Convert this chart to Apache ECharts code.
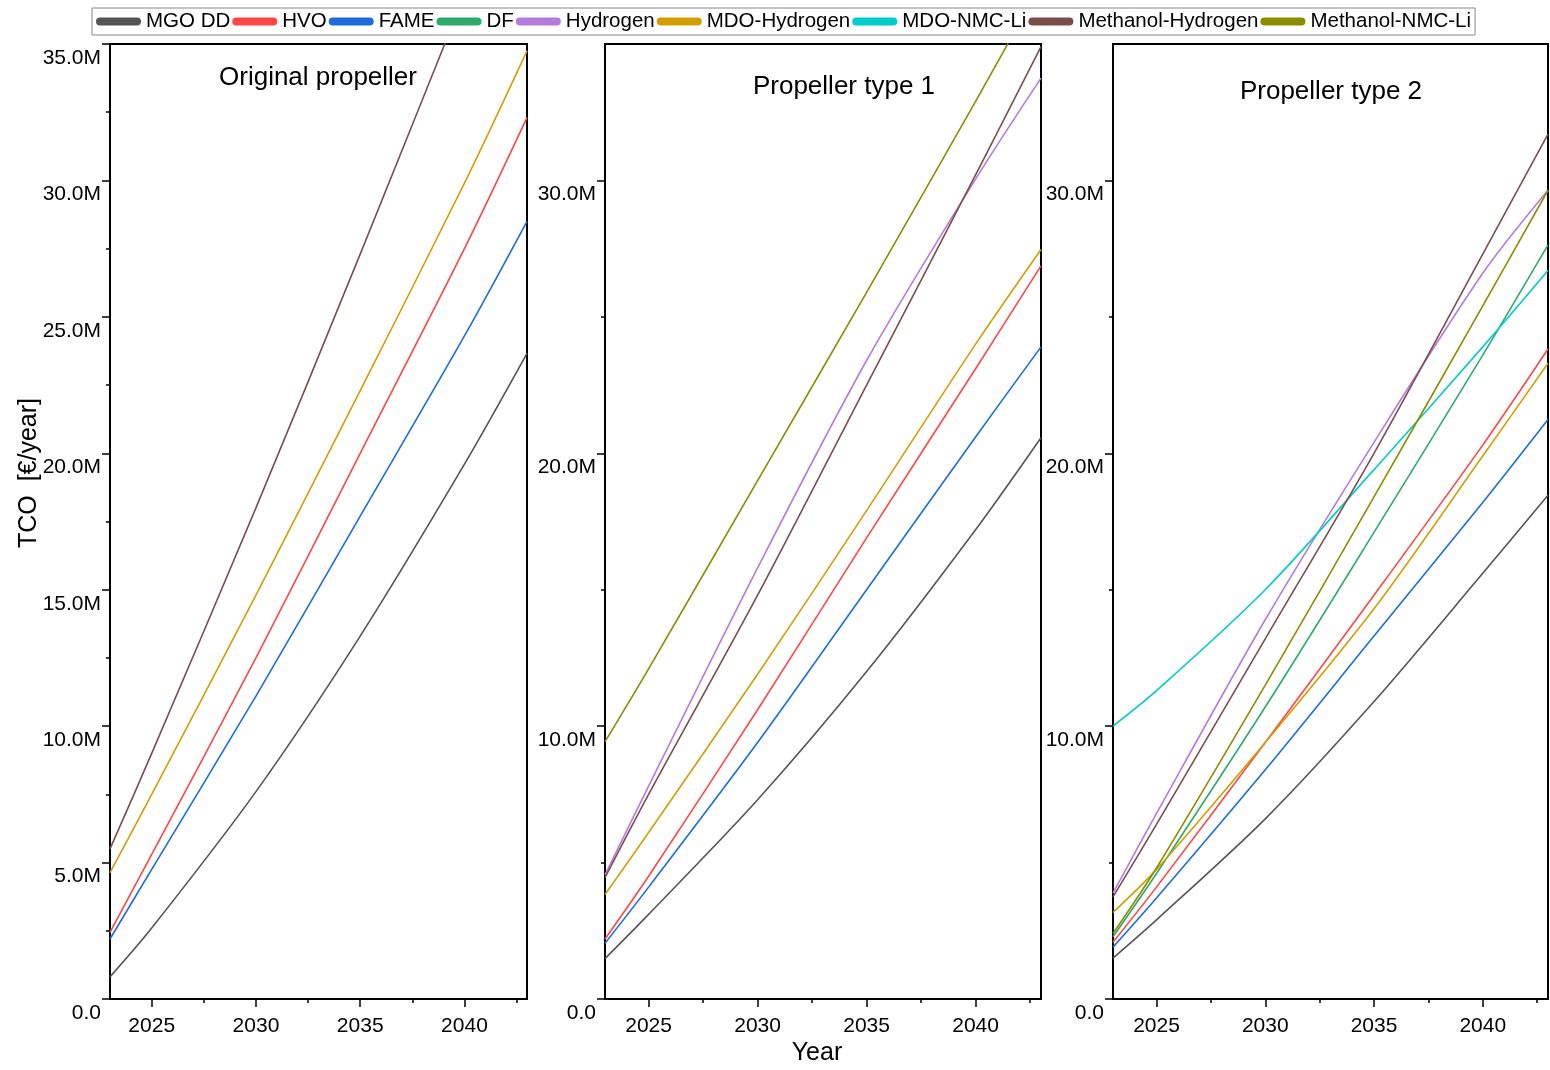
<!DOCTYPE html>
<html>
<head>
<meta charset="utf-8">
<script src="https://cdn.jsdelivr.net/npm/echarts@6/dist/echarts.min.js"></script>
<style>
  html, body { margin: 0; padding: 0; background: #fff; }
  #chart { width: 1550px; height: 1070px; }
</style>
</head>
<body>
<div id="chart"></div>
<script>
// ---------- data (values in million €) ----------
const years = [2023, 2025, 2030, 2035, 2040, 2043];

const seriesNames = ['MGO DD', 'HVO', 'FAME', 'DF', 'Hydrogen', 'MDO-Hydrogen', 'MDO-NMC-Li', 'Methanol-Hydrogen', 'Methanol-NMC-Li'];
const seriesColors = ['#555555', '#ff4646', '#1c6ce0', '#2eaa6c', '#b57bdc', '#d29e00', '#00cccc', '#7b4e4e', '#8c8c00'];

const panelTitles = ['Original propeller', 'Propeller type 1', 'Propeller type 2'];

// Original propeller
const p1_MGO_DD = [0.81, 2.6, 7.6, 13.3, 19.6, 23.66];
const p1_HVO = [2.44, 5.3, 12.5, 20.0, 27.5, 32.3];
const p1_FAME = [2.2, 4.75, 11.1, 17.7, 24.3, 28.5];
const p1_MDO_Hydrogen = [4.63, 7.5, 14.8, 22.3, 29.9, 34.75];
const p1_Methanol_Hydrogen = [5.5, 9.0, 18.0, 27.3, 36.8, 42.5];

// Propeller type 1
const p2_MGO_DD = [1.48, 3.1, 7.3, 12.0, 17.2, 20.57];
const p2_HVO = [2.2, 4.5, 10.6, 16.9, 23.1, 26.87];
const p2_FAME = [2.04, 4.1, 9.4, 15.0, 20.6, 23.9];
const p2_Hydrogen = [4.55, 7.8, 15.8, 23.4, 30.05, 33.75];
const p2_MDO_Hydrogen = [3.83, 6.1, 11.9, 17.9, 24.0, 27.47];
const p2_Methanol_Hydrogen = [4.45, 7.5, 14.8, 22.5, 30.2, 34.9];
const p2_Methanol_NMC_Li = [9.43, 12.1, 19.0, 25.9, 32.9, 37.2];

// Propeller type 2
const p3_MGO_DD = [1.5, 2.9, 6.6, 10.9, 15.6, 18.46];
const p3_HVO = [2.08, 4.1, 9.4, 14.8, 20.3, 23.82];
const p3_FAME = [1.9, 3.7, 8.4, 13.3, 18.2, 21.24];
const p3_DF = [2.28, 4.6, 10.7, 17.1, 23.6, 27.64];
const p3_Hydrogen = [3.88, 6.8, 13.9, 20.4, 26.6, 29.64];
const p3_MDO_Hydrogen = [3.17, 4.75, 9.4, 14.3, 19.9, 23.3];
const p3_MDO_NMC_Li = [10.0, 11.3, 15.0, 19.4, 23.9, 26.7];
const p3_Methanol_Hydrogen = [3.74, 6.4, 13.2, 20.0, 27.3, 31.7];
const p3_Methanol_NMC_Li = [2.4, 4.8, 11.5, 18.4, 25.4, 29.64];

const xMajorTicks = [2025, 2030, 2035, 2040];
const xMinorTicks = [2027.5, 2032.5, 2037.5, 2042.5];
const yMajorTicksP1 = [0, 5, 10, 15, 20, 25, 30, 35];
const yMinorTicksP1 = [2.5, 7.5, 12.5, 17.5, 22.5, 27.5, 32.5];
const yMajorTicksP23 = [0, 10, 20, 30];
const yMinorTicksP23 = [5, 15, 25];

// ---------- build ----------
const panels = [
  { 'MGO DD': p1_MGO_DD, 'HVO': p1_HVO, 'FAME': p1_FAME, 'MDO-Hydrogen': p1_MDO_Hydrogen, 'Methanol-Hydrogen': p1_Methanol_Hydrogen },
  { 'MGO DD': p2_MGO_DD, 'HVO': p2_HVO, 'FAME': p2_FAME, 'Hydrogen': p2_Hydrogen, 'MDO-Hydrogen': p2_MDO_Hydrogen,
    'Methanol-Hydrogen': p2_Methanol_Hydrogen, 'Methanol-NMC-Li': p2_Methanol_NMC_Li },
  { 'MGO DD': p3_MGO_DD, 'HVO': p3_HVO, 'FAME': p3_FAME, 'DF': p3_DF, 'Hydrogen': p3_Hydrogen, 'MDO-Hydrogen': p3_MDO_Hydrogen,
    'MDO-NMC-Li': p3_MDO_NMC_Li, 'Methanol-Hydrogen': p3_Methanol_Hydrogen, 'Methanol-NMC-Li': p3_Methanol_NMC_Li }
];

const FONT = '"Liberation Sans", Arial, Helvetica, sans-serif';
const grids = [
  { left: 110, top: 44, width: 417, height: 955 },
  { left: 605, top: 44, width: 436, height: 955 },
  { left: 1113, top: 44, width: 435, height: 955 }
];
const titlePos = [[318, 78], [844, 87], [1331, 92]];

const xAxes = [], yAxes = [], series = [];
grids.forEach((g, i) => {
  g.show = true; g.borderColor = '#000'; g.borderWidth = 2; g.backgroundColor = 'transparent';
  const yMaj = i === 0 ? yMajorTicksP1 : yMajorTicksP23;
  const yMin = i === 0 ? yMinorTicksP1 : yMinorTicksP23;
  xAxes.push({
    gridIndex: i, type: 'value', min: 2023, max: 2043, position: 'bottom',
    axisLine: { show: true, onZero: false, lineStyle: { color: '#000', width: 2 } },
    axisTick: { show: true, customValues: xMajorTicks, length: 8, lineStyle: { color: '#000', width: 1.5 } },
    axisLabel: { customValues: xMajorTicks, formatter: v => String(v), fontSize: 21, color: '#000', fontFamily: FONT, margin: 17 },
    splitLine: { show: false }
  });
  xAxes.push({
    gridIndex: i, type: 'value', min: 2023, max: 2043, position: 'bottom',
    axisLine: { show: false, onZero: false },
    axisTick: { show: true, customValues: xMinorTicks, length: 4, lineStyle: { color: '#000', width: 1.5 } },
    axisLabel: { show: false },
    splitLine: { show: false }
  });
  yAxes.push({
    gridIndex: i, type: 'value', min: 0, max: 35, position: 'left',
    axisLine: { show: true, onZero: false, lineStyle: { color: '#000', width: 2 } },
    axisTick: { show: true, customValues: yMaj, length: 8, lineStyle: { color: '#000', width: 1.5 } },
    axisLabel: {
      customValues: yMaj, formatter: v => (v === 0 ? '0.0' : v.toFixed(1) + 'M'),
      fontSize: 21, color: '#000', fontFamily: FONT, margin: 9,
      verticalAlign: 'top', lineHeight: 28
    },
    splitLine: { show: false }
  });
  yAxes.push({
    gridIndex: i, type: 'value', min: 0, max: 35, position: 'left',
    axisLine: { show: false, onZero: false },
    axisTick: { show: true, customValues: yMin, length: 4, lineStyle: { color: '#000', width: 1.5 } },
    axisLabel: { show: false },
    splitLine: { show: false }
  });
  seriesNames.forEach((name, k) => {
    const vals = panels[i][name];
    if (!vals) return;
    series.push({
      name: name, type: 'line', xAxisIndex: 2 * i, yAxisIndex: 2 * i,
      data: years.map((y, j) => [y, vals[j]]),
      smooth: 0.3, showSymbol: false, symbol: 'none', clip: true,
      color: seriesColors[k],
      lineStyle: { width: 1.6, color: seriesColors[k] },
      emphasis: { disabled: true }
    });
  });
});

const graphics = [];
panelTitles.forEach((t, i) => {
  graphics.push({
    type: 'text', x: titlePos[i][0], y: titlePos[i][1],
    style: { text: t, fontSize: 26, fontFamily: FONT, fill: '#000', textAlign: 'center', textVerticalAlign: 'middle' }
  });
});
graphics.push({
  type: 'text', x: 29, y: 473, rotation: Math.PI / 2,
  style: { text: 'TCO  [€/year]', fontSize: 25, fontFamily: FONT, fill: '#000', textAlign: 'center', textVerticalAlign: 'middle' }
});
graphics.push({
  type: 'text', x: 817, y: 1053,
  style: { text: 'Year', fontSize: 25, fontFamily: FONT, fill: '#000', textAlign: 'center', textVerticalAlign: 'middle' }
});

const option = {
  animation: false,
  backgroundColor: '#fff',
  textStyle: { fontFamily: FONT },
  color: seriesColors,
  legend: {
    data: seriesNames, left: 92, top: 8, padding: [3, 4], itemGap: 2,
    itemWidth: 45, itemHeight: 8,
    icon: 'path://M4,0 L41,0 A4,4 0 0 1 41,8 L4,8 A4,4 0 0 1 4,0 Z',
    borderColor: '#888', borderWidth: 1,
    textStyle: { fontSize: 20.5, color: '#000', fontFamily: FONT }
  },
  grid: grids,
  xAxis: xAxes,
  yAxis: yAxes,
  series: series,
  graphic: graphics
};

const chart = echarts.init(document.getElementById('chart'), null, { renderer: 'canvas' });
chart.setOption(option);
</script>
</body>
</html>
